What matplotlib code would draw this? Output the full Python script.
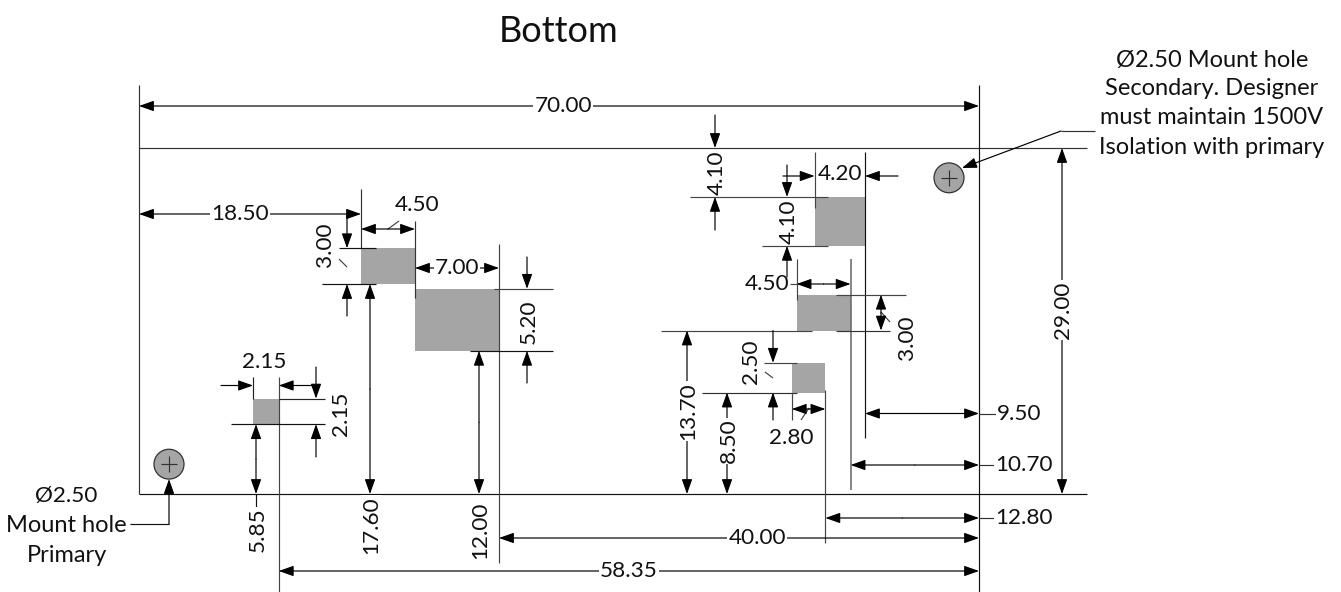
import matplotlib
matplotlib.use("Agg")
import matplotlib.pyplot as plt
from matplotlib.patches import Rectangle, Circle, FancyArrowPatch

plt.rcParams['font.family'] = ['Lato', 'DejaVu Sans']

# all sizes in mm
board_w = 70.00
board_h = 29.00
pad_x = [9.50, 18.50, 23.00, 56.30, 54.80, 54.40]
pad_y = [5.85, 17.60, 12.00, 20.80, 13.70, 8.50]
pad_w = [2.15, 4.50, 7.00, 4.20, 4.50, 2.80]
pad_h = [2.15, 3.00, 5.20, 4.10, 3.00, 2.50]
hole_x = [2.50, 67.50]
hole_y = [2.50, 26.50]
hole_d = 2.50
top_gap = 4.10
right_offsets = [9.50, 10.70, 12.80, 40.00, 58.35]

PAD = '#a5a5a5'
INK = '#111111'
FS = 16.2
NOTE_FS = 17

# page layout: pixel position of the board corner and px per mm
SX = 12.0
SY = 346.0 / board_h
W, H = 1341, 592


def X(px):
    return (px - 139) / SX


def Y(py):
    return (494 - py) / SY


fig = plt.figure(figsize=(W / 100, H / 100), dpi=100)
ax = fig.add_axes([0, 0, 1, 1])
ax.set_xlim(X(0), X(W))
ax.set_ylim(Y(H), Y(0))
ax.axis('off')


def seg(x0, y0, x1, y1, color='#222222', lw=0.85):
    ax.plot([x0, x1], [y0, y1], color=color, lw=lw, solid_capstyle='butt', zorder=2)


def arrow(x0, y0, x1, y1, lw=0.85):
    ax.add_patch(FancyArrowPatch((x0, y0), (x1, y1), shrinkA=0, shrinkB=0, color='black', lw=lw,
                                 arrowstyle='-|>,head_length=9,head_width=3.2', mutation_scale=1, zorder=3))


def label(x, y, txt, rot=0, box=False, fs=FS):
    bbox = dict(fc='white', ec='none', pad=0.6) if box else None
    if rot:
        x = x + 1.5 / SX  # rotated glyphs sit a little left otherwise
    ax.text(x, y, txt, rotation=rot, ha='center', va='center', fontsize=fs, color=INK, bbox=bbox, zorder=4)


def hdim(xa, xb, y, value, tx):
    arrow((xa + xb) / 2, y, xa, y)
    arrow((xa + xb) / 2, y, xb, y)
    label(tx, y, format(value, '.2f'), box=True)


def vdim(x, ya, yb, value, ty):
    arrow(x, (ya + yb) / 2, x, ya)
    arrow(x, (ya + yb) / 2, x, yb)
    label(x, ty, format(value, '.2f'), rot=90, box=True)


# pads
for x, y, w, h in zip(pad_x, pad_y, pad_w, pad_h):
    ax.add_patch(Rectangle((x, y), w, h, fc=PAD, ec='none', zorder=1))

sm, a, b, c, d, e = range(6)
right = lambda i: pad_x[i] + pad_w[i]
top = lambda i: pad_y[i] + pad_h[i]

# board outline and its long extension lines
seg(0, board_h, X(1087), board_h, color='#333333')
seg(0, 0, X(1087), 0, color='#111111')
seg(0, 0, 0, Y(85), color='#333333')
seg(board_w, Y(592), board_w, Y(85), color='#111111')

# mount holes
for x, y in zip(hole_x, hole_y):
    ax.add_patch(Circle((x, y), hole_d / 2, fc=PAD, ec='#333333', lw=0.9, zorder=2))
    seg(x - 0.68, y, x + 0.68, y, color='#333333')
    seg(x, y - 0.68, x, y + 0.68, color='#333333')

label(X(559), Y(32), 'Bottom', fs=26)
hdim(0, board_w, Y(106), board_w, X(563))
vdim(X(1062), 0, board_h, board_h, Y(310))

# primary hole leader
seg(X(130), Y(524), hole_x[0], Y(524), color='#111111')
arrow(hole_x[0], Y(524), hole_x[0], hole_y[0] - hole_d / 2)
label(X(66), Y(496), '\u00d82.50')
label(X(66), Y(526), 'Mount hole', fs=NOTE_FS)
label(X(67), Y(556), 'Primary', fs=NOTE_FS)

# secondary hole leader
seg(X(1095), Y(131), X(1061), Y(131), color='#333333')
arrow(X(1061), Y(131), X(962), Y(168))
for ty, txt in zip([60, 89, 118, 148], ['\u00d82.50 Mount hole', 'Secondary. Designer',
                                         'must maintain 1500V', 'Isolation with primary']):
    label(X(1212), Y(ty), txt, fs=NOTE_FS)

# small pad
seg(pad_x[sm], Y(377), pad_x[sm], top(sm))
seg(right(sm), Y(377), right(sm), Y(592), color='#444444')
seg(right(sm), top(sm), X(325), top(sm))
seg(X(231), pad_y[sm], X(325), pad_y[sm], color='#111111')
arrow(X(221), Y(385.5), pad_x[sm], Y(385.5))
arrow(X(316), Y(385.5), right(sm), Y(385.5))
label(X(264), Y(362), format(pad_w[sm], '.2f'))
arrow(X(316), Y(367), X(316), top(sm))
arrow(X(316), Y(457), X(316), pad_y[sm])
label(X(340), Y(414), format(pad_h[sm], '.2f'), rot=90)
vdim(X(256), 0, pad_y[sm], pad_y[sm], Y(530))
seg(X(256), 0, X(256), Y(509), color='#111111')

# pad a
seg(pad_x[a], Y(189), pad_x[a], top(a), color='#333333')
seg(right(a), Y(221), right(a), Y(298), color='#333333')
seg(X(339), top(a), X(376), top(a), color='#111111')
seg(X(322), pad_y[a], X(376), pad_y[a], color='#111111')
hdim(0, pad_x[a], Y(214), pad_x[a], X(240))
arrow((pad_x[a] + right(a)) / 2, Y(229), pad_x[a], Y(229))
arrow((pad_x[a] + right(a)) / 2, Y(229), right(a), Y(229))
seg(X(388), Y(229), X(399), Y(221), color='#444444')
label(X(417), Y(205), format(pad_w[a], '.2f'))
arrow(X(347), Y(214), X(347), top(a))
arrow(X(347), Y(316), X(347), pad_y[a])
seg(X(339), Y(259), X(347), Y(267), color='#444444')
label(X(323), Y(245), format(pad_h[a], '.2f'), rot=90)
vdim(X(370), 0, pad_y[a], pad_y[a], Y(525))

# pad b
seg(right(b), Y(244), right(b), Y(563), color='#444444')
seg(X(494), top(b), X(553), top(b), color='#444444')
seg(X(470), pad_y[b], X(553), pad_y[b], color='#111111')
hdim(pad_x[b], right(b), Y(268), pad_w[b], X(457))
arrow(X(527), Y(257), X(527), top(b))
arrow(X(527), Y(383), X(527), pad_y[b])
label(X(527), Y(322), format(pad_h[b], '.2f'), rot=90)
vdim(X(479), 0, pad_y[b], pad_y[b], Y(530))

# pad c
seg(pad_x[c], Y(152), pad_x[c], Y(208), color='#444444')
seg(right(c), Y(152), right(c), Y(438), color='#111111')
seg(X(690), top(c), X(828), top(c), color='#444444')
seg(X(762), pad_y[c], X(828), pad_y[c], color='#444444')
arrow(X(783), Y(176), pad_x[c], Y(176))
arrow(X(898), Y(176), right(c), Y(176))
label(X(840), Y(174), format(pad_w[c], '.2f'))
arrow(X(715), Y(115), X(715), board_h)
arrow(X(715), Y(230), X(715), board_h - top_gap)
label(X(715), Y(173), format(top_gap, '.2f'), rot=90)
arrow(X(787), Y(165), X(787), top(c))
arrow(X(787), Y(277), X(787), pad_y[c])
label(X(787), Y(222), format(pad_h[c], '.2f'), rot=90)

# pad d
seg(pad_x[d], Y(259), pad_x[d], Y(300), color='#444444')
seg(right(d), Y(259), right(d), Y(490), color='#666666', lw=1.1)
seg(X(836), top(d), X(906), top(d), color='#444444')
seg(X(661), pad_y[d], X(812), pad_y[d], color='#444444')
seg(X(836), pad_y[d], X(890), pad_y[d], color='#333333')
seg(X(790), Y(284), pad_x[d], Y(284), color='#444444')
arrow((pad_x[d] + right(d)) / 2, Y(284), pad_x[d], Y(284))
arrow((pad_x[d] + right(d)) / 2, Y(284), right(d), Y(284))
label(X(767), Y(284), format(pad_w[d], '.2f'))
arrow(X(881), Y(313), X(881), top(d))
arrow(X(881), Y(313), X(881), pad_y[d])
seg(X(881), Y(312), X(890), Y(322), color='#444444')
label(X(905), Y(338), format(pad_h[d], '.2f'), rot=90)
vdim(X(687), 0, pad_y[d], pad_y[d], Y(411))

# pad e
seg(X(702), pad_y[e], X(797), pad_y[e], color='#333333')
seg(X(764), top(e), X(797), top(e), color='#444444')
seg(pad_x[e], pad_y[e], pad_x[e], Y(420), color='#444444')
seg(right(e), Y(390), right(e), Y(543), color='#444444')
arrow(X(810), Y(409), pad_x[e], Y(409))
arrow(X(810), Y(409), right(e), Y(409))
seg(X(801), Y(420), X(809), Y(408), color='#444444')
label(X(791), Y(438), format(pad_w[e], '.2f'))
arrow(X(773), pad_y[d], X(773), top(e))
arrow(X(773), Y(420), X(773), pad_y[e])
seg(X(765), Y(372), X(773), Y(378), color='#444444')
label(X(749), Y(362), format(pad_h[e], '.2f'), rot=90)
vdim(X(727), 0, pad_y[e], pad_y[e], Y(441))

# distances from the right board edge
for off, py, tx in zip(right_offsets, [413.5, 465, 518, 538, 571], [1019, 1024, 1024, 757, 629]):
    xa = board_w - off
    arrow((xa + board_w) / 2, Y(py), xa, Y(py))
    arrow((xa + board_w) / 2, Y(py), board_w, Y(py))
    if tx > 1000:
        seg(board_w, Y(py), X(997), Y(py), color='#333333')
    label(X(tx), Y(py), format(off, '.2f'), box=True)

fig.savefig('out.png', dpi=100, facecolor='white')
